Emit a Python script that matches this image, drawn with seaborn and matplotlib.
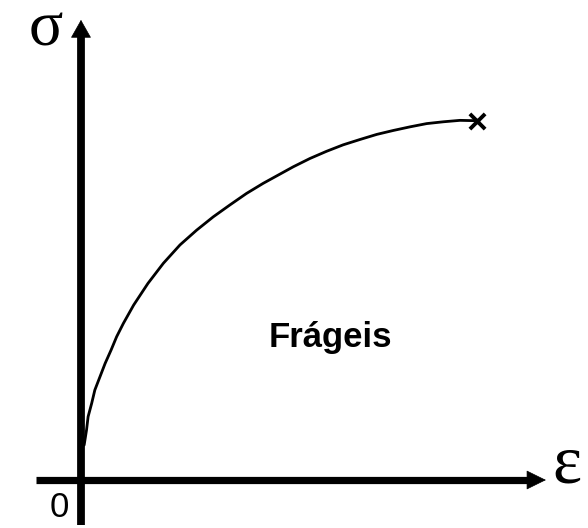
import matplotlib
matplotlib.use("Agg")
import matplotlib.pyplot as plt
import seaborn as sns
import pandas as pd

sns.set_style("white")

# curva tensão x deformação (material frágil), valores normalizados
deformacao = [0.008, 0.014, 0.018, 0.027, 0.035, 0.048, 0.061, 0.076, 0.090,
              0.107, 0.133, 0.169, 0.208, 0.250, 0.292, 0.334, 0.376, 0.418,
              0.460, 0.498, 0.536, 0.578, 0.620, 0.662, 0.705, 0.747, 0.789,
              0.831, 0.873, 0.915, 0.957, 1.0]
tensao = [0.097, 0.139, 0.176, 0.213, 0.250, 0.287, 0.324, 0.361, 0.398,
          0.435, 0.486, 0.546, 0.602, 0.653, 0.694, 0.731, 0.764, 0.796,
          0.824, 0.847, 0.870, 0.893, 0.913, 0.931, 0.946, 0.960, 0.971,
          0.981, 0.990, 0.995, 0.999, 0.998]

# ponto de ruptura
ruptura_x = [1.0]
ruptura_y = [0.998]

df = pd.DataFrame({"deformacao": deformacao, "tensao": tensao})

fig = plt.figure(figsize=(5.88, 5.28), dpi=100)
ax = fig.add_axes([0, 0, 1, 1])
ax.set_xlim(-0.2045, 1.2803)
ax.set_ylim(-0.1333, 1.3333)
ax.axis("off")

# eixos com setas
ax.plot([-0.114, 1.13], [0, 0], color="black", lw=5.2, solid_capstyle="butt")
ax.plot([0, 0], [-0.125, 1.24], color="black", lw=5.6, solid_capstyle="butt")
ax.annotate("", xy=(1.174, 0), xytext=(1.12, 0),
            arrowprops=dict(arrowstyle="-|>,head_length=0.65,head_width=0.32",
                            color="black", lw=0.5, shrinkA=0, shrinkB=0,
                            mutation_scale=20))
ax.annotate("", xy=(0, 1.278), xytext=(0, 1.22),
            arrowprops=dict(arrowstyle="-|>,head_length=0.6,head_width=0.34",
                            color="black", lw=0.5, shrinkA=0, shrinkB=0,
                            mutation_scale=20))

sns.lineplot(data=df, x="deformacao", y="tensao", color="black", lw=2.0,
             ax=ax, solid_joinstyle="round")
sns.scatterplot(x=ruptura_x, y=ruptura_y, marker="x", s=120, color="black",
                linewidth=2.8, ax=ax)

ax.text(-0.0884, 1.208, "σ", fontsize=46, family="Liberation Serif",
        color="black", ha="center", va="baseline")
ax.text(1.227, -0.0083, "ε", fontsize=50, family="Liberation Serif",
        color="black", ha="center", va="baseline")
ax.text(-0.0556, -0.103, "0", fontsize=25, family="Liberation Sans",
        color="black", ha="center", va="baseline")
ax.text(0.629, 0.369, "Frágeis", fontsize=25, family="Liberation Sans",
        color="black", fontweight="bold", ha="center", va="baseline")

ax.set_xlabel("")
ax.set_ylabel("")
fig.savefig("out.png", dpi=100)
